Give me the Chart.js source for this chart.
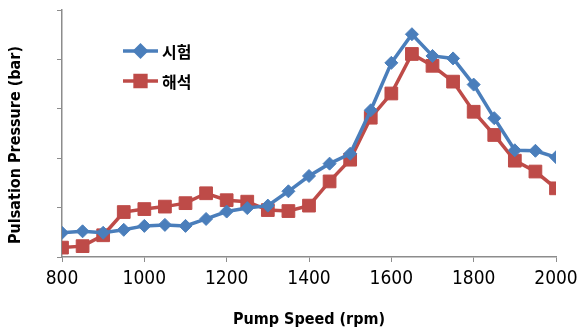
<!DOCTYPE html>
<html>
<head>
<meta charset="utf-8">
<script src="https://cdn.jsdelivr.net/npm/chart.js@4"></script>
<style>
  body { margin: 0; background: #fff; }
  #wrap { width: 579px; height: 336px; }
</style>
</head>
<body>
<div id="wrap"><canvas id="myChart" width="579" height="336"></canvas></div>
<script>
// pump speed (rpm)
var speeds = [800, 850, 900, 950, 1000, 1050, 1100, 1150, 1200, 1250, 1300, 1350, 1400,
  1450, 1500, 1550, 1600, 1650, 1700, 1750, 1800, 1850, 1900, 1950, 2000];
// 시험 (test) - pulsation pressure
var testValues = [0.49, 0.52, 0.49, 0.55, 0.63, 0.65, 0.63, 0.77, 0.92, 0.99, 1.04, 1.33, 1.64,
  1.89, 2.09, 2.97, 3.93, 4.51, 4.07, 4.02, 3.49, 2.81, 2.16, 2.15, 2.02];
// 해석 (analysis)
var analysisValues = [0.19, 0.22, 0.44, 0.91, 0.97, 1.02, 1.09, 1.29, 1.15, 1.12, 0.95, 0.93, 1.04,
  1.53, 1.97, 2.82, 3.31, 4.11, 3.87, 3.55, 2.94, 2.47, 1.95, 1.73, 1.39];
var seriesNames = ['시험', '해석'];
var xTitle = 'Pump Speed (rpm)';
var yTitle = 'Pulsation Pressure (bar)';

var blue = '#4A7EBB';
var red = '#BE4B48';
var axisGray = '#8C8C8C';

function pts(vals) {
  return speeds.map(function (s, i) { return { x: s, y: vals[i] }; });
}

// legend + axis titles drawn at fixed spots, like the excel picture
var extras = {
  id: 'extras',
  afterDraw: function (chart) {
    var c = chart.ctx;
    var area = chart.chartArea;
    c.save();
    c.fillStyle = '#000';
    c.font = 'bold 16px "DejaVu Sans Condensed", "DejaVu Sans", sans-serif';
    c.textAlign = 'center';
    c.textBaseline = 'middle';
    c.fillText(xTitle, (area.left + area.right) / 2, 320);
    c.translate(16, 145);
    c.rotate(-Math.PI / 2);
    c.fillText(yTitle, 0, 0);
    c.restore();

    // legend
    var rows = [51, 81];
    rows.forEach(function (ry, i) {
      var ds = chart.data.datasets[i];
      c.save();
      c.strokeStyle = ds.borderColor;
      c.lineWidth = ds.borderWidth;
      c.beginPath();
      c.moveTo(123, ry);
      c.lineTo(158, ry);
      c.stroke();
      Chart.helpers.drawPoint(c, {
        pointStyle: ds.pointStyle,
        radius: ds.pointRadius * 0.85,
        borderWidth: 1
      }, 140.5, ry);
      c.fillStyle = ds.pointBackgroundColor;
      c.fill();
      c.fillStyle = '#000';
      c.font = 'bold 16px "Noto Sans CJK KR", sans-serif';
      c.textAlign = 'left';
      c.textBaseline = 'middle';
      c.fillText(seriesNames[i], 162, ry + 1);
      c.restore();
    });
  }
};

var ctx = document.getElementById('myChart');

var myChart = new Chart(ctx, {
  type: 'line',
  data: {
    datasets: [{
      label: seriesNames[0],
      data: pts(testValues),
      borderColor: blue,
      backgroundColor: blue,
      pointBackgroundColor: blue,
      pointBorderColor: blue,
      borderWidth: 3.5,
      pointStyle: 'rectRot',
      pointRadius: 6.5,
      pointBorderWidth: 1,
      tension: 0
    }, {
      label: seriesNames[1],
      data: pts(analysisValues),
      borderColor: red,
      backgroundColor: red,
      pointBackgroundColor: red,
      pointBorderColor: red,
      borderWidth: 3.5,
      pointStyle: 'rect',
      pointRadius: 9,
      pointBorderWidth: 1,
      tension: 0
    }]
  },
  options: {
    responsive: false,
    animation: false,
    layout: { padding: { left: 0, top: 7, right: 23, bottom: 0 } },
    plugins: {
      legend: { display: false },
      tooltip: { enabled: false }
    },
    scales: {
      x: {
        type: 'linear',
        min: 800,
        max: 2000,
        afterFit: function (s) {
          s.height = 79;
          s.paddingLeft = 0;
          s.paddingRight = 0;
        },
        ticks: {
          stepSize: 200,
          color: '#000',
          padding: 6,
          callback: function (v) { return String(v); },
          font: { family: '"Liberation Sans Narrow", "DejaVu Sans Condensed", sans-serif', size: 19 }
        },
        grid: { drawOnChartArea: false, tickLength: 5, color: axisGray, tickColor: axisGray },
        border: { color: axisGray, width: 1.5 }
      },
      y: {
        min: 0,
        max: 5,
        afterFit: function (s) {
          s.width = 62;
          s.paddingTop = 0;
          s.paddingBottom = 0;
        },
        ticks: { stepSize: 1, display: false },
        grid: { drawOnChartArea: false, tickLength: 5, color: axisGray, tickColor: axisGray },
        border: { color: axisGray, width: 1.5 }
      }
    }
  },
  plugins: [extras]
});
</script>
</body>
</html>
